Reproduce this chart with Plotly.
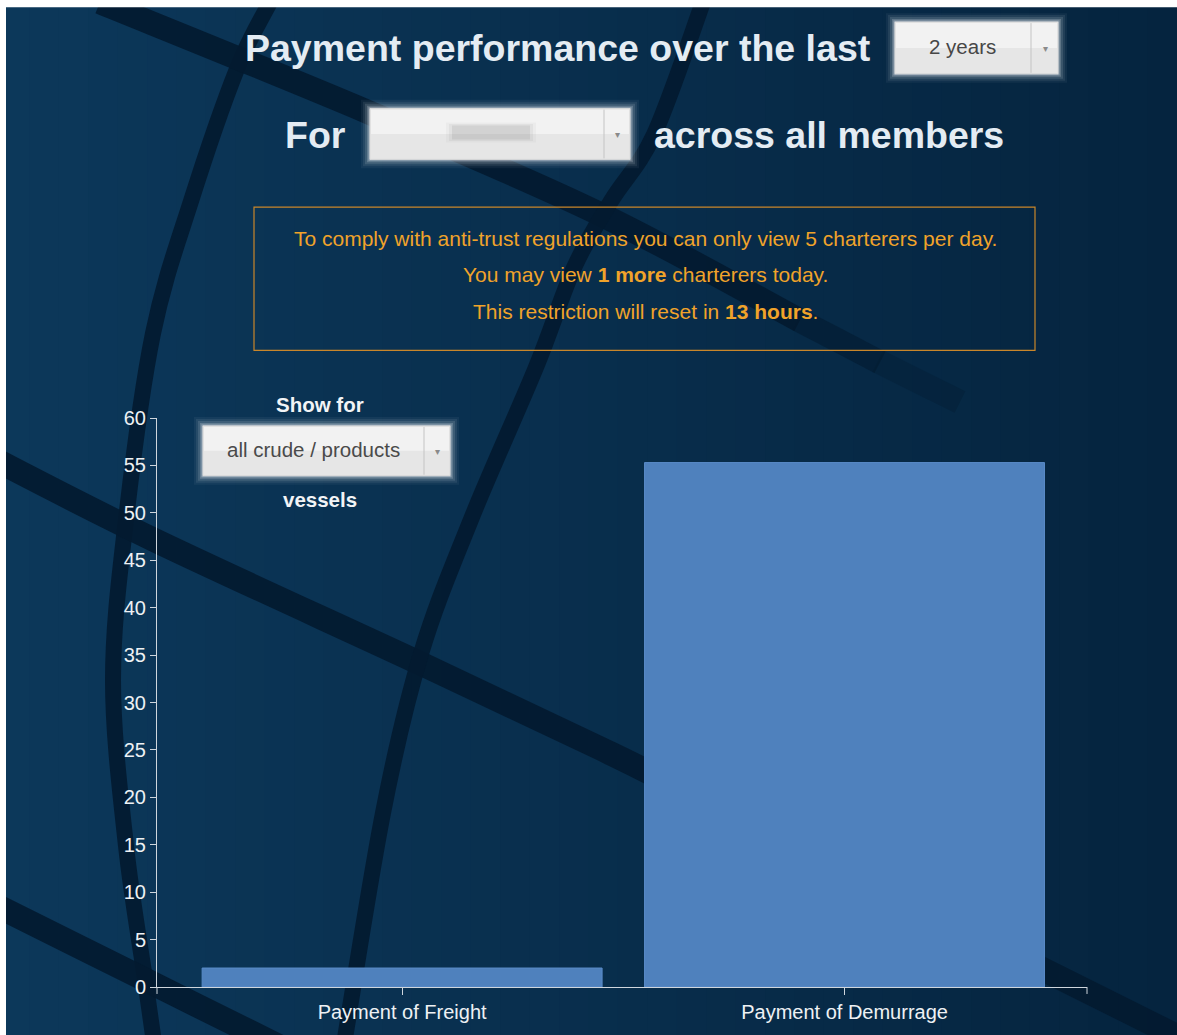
import plotly.graph_objects as go

# ---------------- data ----------------
categories = ["Payment of Freight", "Payment of Demurrage"]
values = [2.0, 55.3]
y_ticks = list(range(0, 61, 5))

# ---------------- geometry helpers (pixel -> paper) ----------------
W, H = 1177, 1035
L, R, T, B = 157, 90, 418, 45
PW, PH = W - L - R, H - T - B


def X(px):
    return (px - L) / PW


def Y(py):
    return (H - B - py) / PH


def smooth_path(pts):
    # Catmull-Rom -> cubic bezier in paper coordinates
    p = [(X(a), Y(b)) for a, b in pts]
    d = f"M{p[0][0]:.5f},{p[0][1]:.5f}"
    for i in range(len(p) - 1):
        p0 = p[i - 1] if i > 0 else p[i]
        p1, p2 = p[i], p[i + 1]
        p3 = p[i + 2] if i + 2 < len(p) else p2
        c1 = (p1[0] + (p2[0] - p0[0]) / 6, p1[1] + (p2[1] - p0[1]) / 6)
        c2 = (p2[0] - (p3[0] - p1[0]) / 6, p2[1] - (p3[1] - p1[1]) / 6)
        d += f" C{c1[0]:.5f},{c1[1]:.5f} {c2[0]:.5f},{c2[1]:.5f} {p2[0]:.5f},{p2[1]:.5f}"
    return d


shapes = []

# page background (navy panel with horizontal gradient)
shapes.append(dict(type="rect", xref="paper", yref="paper", layer="below",
                   x0=X(0), x1=X(W + 20), y0=Y(0), y1=Y(H + 20),
                   fillcolor="#0a3456", line=dict(width=0)))
n = 40
c0, c1 = (12, 56, 90), (5, 36, 63)
for i in range(n):
    t = i / (n - 1)
    col = tuple(int(round(c0[k] + (c1[k] - c0[k]) * t)) for k in range(3))
    xa = W * i / n
    xb = W * (i + 1) / n + (21 if i == n - 1 else 1)
    shapes.append(dict(type="rect", xref="paper", yref="paper", layer="below",
                       x0=X(xa), x1=X(xb), y0=Y(0), y1=Y(H + 20),
                       fillcolor="rgb(%d,%d,%d)" % col, line=dict(width=0)))

# dark globe bands
band_col = "rgba(3,26,48,%.2f)"
bands = [
    ([(270, 0), (237, 67), (191, 200), (153, 333), (126, 520), (113, 682), (126, 848), (145, 982), (156, 1060)], 16, 0.92),
    ([(100, 0), (367, 110), (600, 213), (800, 320)], 24, 0.92),
    ([(798, 319), (880, 362)], 24, 0.6),
    ([(878, 361), (960, 402)], 24, 0.3),
    ([(-20, 452), (153, 540), (421, 665), (600, 750), (700, 800), (1190, 1046)], 24, 0.92),
    ([(-20, 900), (150, 985), (300, 1060)], 24, 0.92),
    ([(703, 0), (654, 133), (611, 200), (574, 267), (536, 367), (471, 520), (421, 655), (383, 815), (342, 1060)], 16, 0.92),
]
for pts, w, op in bands:
    shapes.append(dict(type="path", xref="paper", yref="paper", layer="below",
                       path=smooth_path(pts), line=dict(color=band_col % op, width=w)))

# white top / left frame
shapes.append(dict(type="rect", xref="paper", yref="paper", layer="above",
                   x0=X(-20), x1=X(W + 20), y0=Y(-30), y1=Y(5), fillcolor="white", line=dict(width=0)))
shapes.append(dict(type="rect", xref="paper", yref="paper", layer="above",
                   x0=X(-20), x1=X(6), y0=Y(-30), y1=Y(H + 20), fillcolor="white", line=dict(width=0)))


def dropdown(x0, y0, x1, y1, divx):
    for g, op in [(9, 0.05), (7, 0.08), (5, 0.12), (3, 0.2), (1.5, 0.35)]:
        shapes.append(dict(type="rect", xref="paper", yref="paper", layer="above",
                           x0=X(x0 - g), x1=X(x1 + g), y0=Y(y0 - g), y1=Y(y1 + g),
                           fillcolor="rgba(240,244,248,%.2f)" % op, line=dict(width=0)))
    shapes.append(dict(type="rect", xref="paper", yref="paper", layer="above",
                       x0=X(x0), x1=X(x1), y0=Y(y0), y1=Y(y1),
                       fillcolor="#e6e6e6", line=dict(color="#dcdcdc", width=1)))
    shapes.append(dict(type="rect", xref="paper", yref="paper", layer="above",
                       x0=X(x0 + 1), x1=X(x1 - 1), y0=Y(y0 + 1), y1=Y((y0 + y1) / 2),
                       fillcolor="#f2f2f2", line=dict(width=0)))
    shapes.append(dict(type="line", xref="paper", yref="paper", layer="above",
                       x0=X(divx), x1=X(divx), y0=Y(y0 + 1), y1=Y(y1 - 1),
                       line=dict(color="#c4c4c4", width=1)))


dropdown(895, 20, 1058, 72, 1031)
dropdown(370, 107, 630, 158, 604)
dropdown(203, 426, 450, 476, 424)

# blurred selection in second dropdown
for g, op in [(6, 0.05), (3, 0.08), (0, 0.12)]:
    shapes.append(dict(type="rect", xref="paper", yref="paper", layer="above",
                       x0=X(452 - g), x1=X(530 + g), y0=Y(124 - g / 2), y1=Y(138 + g / 2),
                       fillcolor="rgba(110,110,110,%.2f)" % op, line=dict(width=0)))

# notice box
shapes.append(dict(type="rect", xref="paper", yref="paper", layer="above",
                   x0=X(254), x1=X(1035), y0=Y(206), y1=Y(350),
                   fillcolor="rgba(0,0,0,0)", line=dict(color="#c9862a", width=1.2)))

# x-axis outer end ticks
for ex in (157, 1087):
    shapes.append(dict(type="line", xref="paper", yref="paper", layer="above",
                       x0=X(ex), x1=X(ex), y0=Y(990), y1=Y(997),
                       line=dict(color="#cfd6dd", width=1)))

FONT = "Liberation Sans, Arial, sans-serif"
title_col = "#e4ecf3"
orange = "#f0a32a"
ann = []


def text(s, px, py, size, color, bold=False, xanchor="center"):
    ann.append(dict(text=("<b>%s</b>" % s) if bold else s, x=X(px), y=Y(py),
                    xref="paper", yref="paper", xanchor=xanchor, yanchor="middle",
                    showarrow=False, font=dict(family=FONT, size=size, color=color)))


text("Payment performance over the last", 873, 46, 37.5, title_col, True, "right")
text("2 years", 962, 45, 20.5, "#474747")
text("▾", 1045, 47, 10, "#8a8a8a")
text("For", 348, 134, 37.5, title_col, True, "right")
text("▾", 617, 133, 10, "#8a8a8a")
text("across all members", 652, 134, 37.5, title_col, True, "left")

text("To comply with anti-trust regulations you can only view 5 charterers per day.", 645, 238, 21, orange)
text("You may view <b>1 more</b> charterers today.", 645, 274, 21, orange)
text("This restriction will reset in <b>13 hours</b>.", 645, 311, 21, orange)

text("Show for", 320, 404, 20.5, "#f2f4f6", True)
text("all crude / products", 313, 450, 20.5, "#4a4a4a")
text("▾", 437, 452, 10, "#8a8a8a")
text("vessels", 320, 500, 20.5, "#f2f4f6", True)

fig = go.Figure(go.Bar(
    x=categories, y=values, width=0.904,
    marker=dict(color="#4f81bd", line=dict(color="#5a8bc8", width=1)),
    hoverinfo="skip",
))

axis_col = "#cfd6dd"
fig.update_layout(
    width=W, height=H, autosize=False,
    margin=dict(l=L, r=R, t=T, b=B, pad=0),
    paper_bgcolor="#0a3456", plot_bgcolor="rgba(0,0,0,0)",
    showlegend=False,
    shapes=shapes, annotations=ann,
    font=dict(family=FONT, color="#e8edf2"),
    xaxis=dict(type="category", range=[-0.554, 1.548], showgrid=False, zeroline=False,
               showline=True, linecolor=axis_col, linewidth=1, layer="below traces",
               ticks="outside", ticklen=7, tickcolor=axis_col, tickwidth=1,
               tickfont=dict(family=FONT, size=20, color="#eef1f4"), fixedrange=True),
    yaxis=dict(range=[0, 60], tickvals=y_ticks, showgrid=False, zeroline=False,
               showline=True, linecolor=axis_col, linewidth=1,
               ticks="outside", ticklen=6, tickcolor=axis_col, tickwidth=1,
               tickfont=dict(family=FONT, size=20, color="#eef1f4"), fixedrange=True),
)

fig.write_html("out.html", config=dict(displayModeBar=False),
               post_script="document.body.style.margin='0';document.body.style.overflow='hidden';document.body.style.background='#0a3456';")
